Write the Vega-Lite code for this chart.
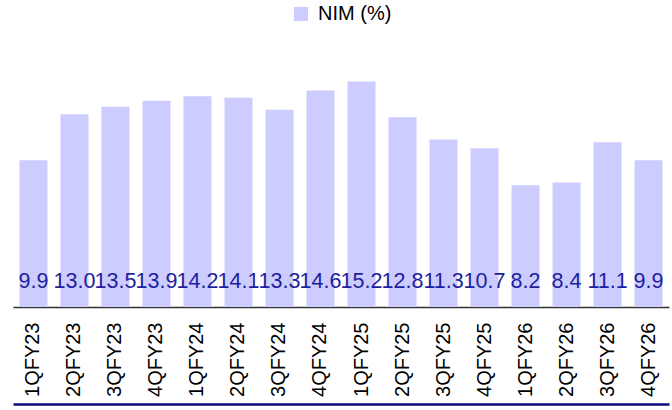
{
  "$schema": "https://vega.github.io/schema/vega-lite/v6.json",
  "width": 656,
  "height": 267,
  "autosize": "none",
  "padding": {"left": 13, "top": 40, "right": 3, "bottom": 103},
  "background": "white",
  "config": {"view": {"stroke": null}, "font": "Liberation Sans"},
  "data": {
    "values": [
      {"quarter": "1QFY23", "nim": 9.9, "series": "NIM (%)"},
      {"quarter": "2QFY23", "nim": 13.0, "series": "NIM (%)"},
      {"quarter": "3QFY23", "nim": 13.5, "series": "NIM (%)"},
      {"quarter": "4QFY23", "nim": 13.9, "series": "NIM (%)"},
      {"quarter": "1QFY24", "nim": 14.2, "series": "NIM (%)"},
      {"quarter": "2QFY24", "nim": 14.1, "series": "NIM (%)"},
      {"quarter": "3QFY24", "nim": 13.3, "series": "NIM (%)"},
      {"quarter": "4QFY24", "nim": 14.6, "series": "NIM (%)"},
      {"quarter": "1QFY25", "nim": 15.2, "series": "NIM (%)"},
      {"quarter": "2QFY25", "nim": 12.8, "series": "NIM (%)"},
      {"quarter": "3QFY25", "nim": 11.3, "series": "NIM (%)"},
      {"quarter": "4QFY25", "nim": 10.7, "series": "NIM (%)"},
      {"quarter": "1QFY26", "nim": 8.2, "series": "NIM (%)"},
      {"quarter": "2QFY26", "nim": 8.4, "series": "NIM (%)"},
      {"quarter": "3QFY26", "nim": 11.1, "series": "NIM (%)"},
      {"quarter": "4QFY26", "nim": 9.9, "series": "NIM (%)"}
    ]
  },
  "encoding": {
    "x": {
      "field": "quarter",
      "type": "nominal",
      "sort": null,
      "scale": {"paddingInner": 0.317, "paddingOuter": 0.158}
    }
  },
  "layer": [
    {
      "mark": {"type": "bar", "color": "#CCCCFF"},
      "encoding": {
        "x": {
          "field": "quarter",
          "type": "nominal",
          "sort": null,
          "title": null,
          "axis": {
            "orient": "bottom",
            "labelAngle": 270,
            "labelAlign": "right",
            "labelBaseline": "middle",
            "labelFontSize": 20,
            "labelColor": "#000000",
            "labelPadding": 15,
            "ticks": false,
            "domainColor": "#333333",
            "domainWidth": 1.5
          }
        },
        "y": {
          "field": "nim",
          "type": "quantitative",
          "scale": {"domain": [0, 18], "nice": false},
          "axis": null
        },
        "fill": {
          "field": "series",
          "type": "nominal",
          "scale": {"range": ["#CCCCFF"]},
          "legend": {
            "title": null,
            "orient": "none",
            "legendX": 278,
            "legendY": -36,
            "symbolType": "square",
            "symbolSize": 196,
            "symbolStrokeWidth": 0,
            "labelFontSize": 20,
            "labelColor": "#000000",
            "labelOffset": 7,
            "padding": 0
          }
        }
      }
    },
    {
      "mark": {
        "type": "text",
        "color": "#1E1EA0",
        "fontSize": 21.5,
        "baseline": "alphabetic",
        "dy": -19
      },
      "encoding": {
        "x": {
          "field": "quarter",
          "type": "nominal",
          "sort": null,
          "title": null,
          "axis": {
            "orient": "bottom",
            "offset": 97,
            "labels": false,
            "ticks": false,
            "domainColor": "#0A0A80",
            "domainWidth": 2.5
          }
        },
        "y": {"datum": 0, "type": "quantitative"},
        "text": {"field": "nim", "type": "quantitative", "format": ".1f"}
      }
    }
  ],
  "resolve": {"axis": {"x": "independent"}}
}
